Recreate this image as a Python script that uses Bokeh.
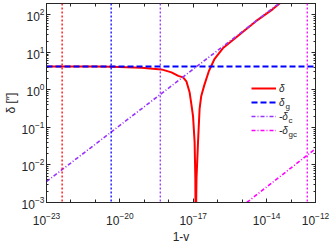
import math
from bokeh.plotting import figure
from bokeh.models import (Range1d, LogAxis, FixedTicker, Span, Legend, LegendItem, Label,
                          CustomJSTickFormatter)
from bokeh.embed import file_html
from bokeh.resources import INLINE

# ---------------- data ----------------
x_major_ticks = [1e-23, 1e-20, 1e-17, 1e-14, 1e-12]
x_minor_ticks = [10.0 ** e for e in range(-23, -11)]
y_major_ticks = [1e-3, 1e-2, 1e-1, 1e0, 1e1, 1e2]
y_minor_ticks = [k * 10.0 ** e for e in range(-3, 3) for k in range(2, 10) if k * 10.0 ** e <= 200]

delta_x = [1e-23, 1e-22, 1e-21, 4.68e-21, 7.76e-20, 5.01e-19, 1.29e-18, 2.45e-18, 3.85e-18,
           5.25e-18, 7.14e-18, 8.38e-18, 9.82e-18, 1.14e-17, 1.22e-17, 1.26e-17,
           1.36e-17, 1.57e-17, 1.82e-17, 2.13e-17, 2.82e-17, 4.31e-17, 7.24e-17, 1.62e-16,
           7.69e-16, 3.67e-15, 1.75e-14, 4.17e-14]
delta_y = [4.21, 4.2, 4.17, 4.13, 3.89, 3.51, 2.92, 2.36, 2.15,
           1.69, 0.85, 0.42, 0.20, 0.041, 0.0043, 1e-4,
           0.0043, 0.041, 0.31, 0.69, 1.32, 3.1, 6.46, 12.8,
           29.5, 67.6, 140, 224]

delta_g_x = [1e-23, 1e-12]
delta_g_y = [4.2, 4.2]

delta_c_x = [1e-23, 3.2e-14]
delta_c_y = [3.6e-3, 200]

delta_gc_x = [1.55e-15, 1e-12]
delta_gc_y = [1e-3, 0.027]

vline_x = [4.35e-23, 4.4e-21, 4.5e-19, 4.6e-13]
vline_colors = ["#ff0000", "#0000ff", "#9933ff", "#ff00ff"]

legend_labels = ["δ", "δ", "-δ", "-δ"]
legend_subs = ["", "g", "c", "gc"]
x_label = "1-v"
y_label = "δ [″]"

# ---------------- figure ----------------
XMIN, XMAX = 1e-23, 1e-12
YMIN, YMAX = 1e-3, 200
AX = "#262626"
FONT = "Liberation Sans"

p = figure(width=332, height=246, x_axis_type="log", y_axis_type="log",
           x_range=Range1d(XMIN, XMAX), y_range=Range1d(YMIN, YMAX),
           output_backend="svg", toolbar_location=None,
           min_border_left=44, min_border_right=17, min_border_top=3, min_border_bottom=42)
p.background_fill_color = "white"
p.border_fill_color = "white"
p.outline_line_color = AX
p.outline_line_width = 1
p.xgrid.visible = False
p.ygrid.visible = False


def style_axis(ax, ticks, minor, labels=True):
    ax.ticker = FixedTicker(ticks=ticks, minor_ticks=minor)
    ax.axis_line_color = AX
    ax.major_tick_line_color = AX
    ax.minor_tick_line_color = AX
    ax.major_tick_in = 4
    ax.major_tick_out = 0
    ax.minor_tick_in = 2
    ax.minor_tick_out = 0
    ax.major_label_text_color = AX
    ax.major_label_text_font = FONT
    ax.major_label_text_font_size = "12px" if labels else "1px"
    ax.major_label_standoff = 2 if labels else 0
    ax.axis_label_text_font = FONT
    ax.axis_label_text_color = AX
    ax.axis_label_text_font_style = "normal"
    ax.axis_label_text_font_size = "12px"
    if not labels:
        ax.formatter = CustomJSTickFormatter(code="return ''")


style_axis(p.xaxis[0], x_major_ticks, x_minor_ticks)
style_axis(p.yaxis[0], y_major_ticks, y_minor_ticks)
p.xaxis[0].minor_tick_in = 3
p.xaxis[0].major_label_standoff = 9
p.xaxis[0].axis_label = x_label
p.xaxis[0].axis_label_standoff = 2
p.yaxis[0].axis_label = y_label
p.yaxis[0].axis_label_standoff = 1

top_ax = LogAxis()
style_axis(top_ax, x_major_ticks, x_minor_ticks, labels=False)
top_ax.minor_tick_in = 3
right_ax = LogAxis()
style_axis(right_ax, y_major_ticks, y_minor_ticks, labels=False)
p.add_layout(top_ax, "above")
p.add_layout(right_ax, "right")

# ---------------- glyphs ----------------
r_d = p.line(delta_x, delta_y, line_color="#ff0000", line_width=2)
r_g = p.line(delta_g_x, delta_g_y, line_color="#0000ff", line_width=2, line_dash="6 3")
r_c = p.line(delta_c_x, delta_c_y, line_color="#9933ff", line_width=1.6, line_dash="4 2 1 2")
r_gc = p.line(delta_gc_x, delta_gc_y, line_color="#ff00ff", line_width=1.6, line_dash="4 2 1 2")

for xv, col in zip(vline_x, vline_colors):
    p.add_layout(Span(location=xv, dimension="height", line_color=col,
                      line_width=1.3, line_dash="2 2"))

# ---------------- legend ----------------
LX, LY, ROW = 205, 65, 14
items = [LegendItem(label=lab, renderers=[r]) for lab, r in zip(legend_labels, [r_d, r_g, r_c, r_gc])]
legend = Legend(items=items, location=(LX, LY), orientation="vertical",
                padding=0, spacing=0, margin=0, label_height=ROW, glyph_height=ROW,
                glyph_width=25, label_standoff=3, border_line_alpha=0,
                background_fill_alpha=0, label_text_font=FONT,
                label_text_font_size="10px", label_text_font_style="italic",
                label_text_color=AX)
p.add_layout(legend)

# subscripts, same frame-relative screen units as the legend
sub_dx = [0, 34, 37, 37]
for i, (sub, dx) in enumerate(zip(legend_subs, sub_dx)):
    if not sub:
        continue
    row_center = LY + 4 * ROW - (ROW / 2 + i * ROW)
    p.add_layout(Label(x=LX + dx, y=row_center - 4, x_units="screen", y_units="screen",
                       text=sub, text_font=FONT, text_font_size="8px", text_color=AX,
                       text_align="left", text_baseline="middle"))

open("out.html", "w").write(file_html(p, INLINE))
